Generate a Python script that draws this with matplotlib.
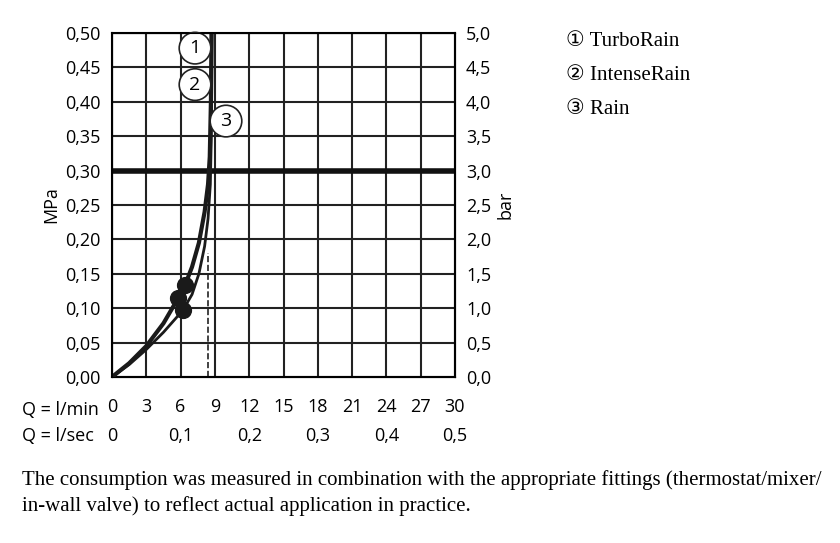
import matplotlib
matplotlib.use("Agg")
import matplotlib.pyplot as plt

curve1_x = [0, 1.5, 3, 4.5, 5.8, 6.4, 7.0, 7.6, 8.1, 8.4, 8.55, 8.65, 8.7]
curve1_y = [0, 0.02, 0.045, 0.078, 0.115, 0.134, 0.16, 0.195, 0.24, 0.28, 0.32, 0.40, 0.50]
curve2_x = [0, 1.5, 3, 4.5, 6.2, 7.0, 7.6, 8.1, 8.4, 8.6, 8.7, 8.75]
curve2_y = [0, 0.018, 0.04, 0.065, 0.097, 0.12, 0.15, 0.19, 0.23, 0.28, 0.36, 0.50]
dots_x = [6.4, 5.8, 6.2]
dots_y = [0.134, 0.115, 0.097]
xticks_min = [0, 3, 6, 9, 12, 15, 18, 21, 24, 27, 30]
xticks_sec = ["0", "0,1", "0,2", "0,3", "0,4", "0,5"]
yticks = [i * 0.05 for i in range(11)]
labels = ["① TurboRain", "② IntenseRain", "③ Rain"]

plt.rcParams['font.family'] = ['Open Sans', 'DejaVu Sans']
fig = plt.figure(figsize=(8.4, 5.43), dpi=100)
ax = fig.add_axes([112/840, 1-377/543, 343/840, 344/543])
ax.set_xlim(0, 30); ax.set_ylim(0, 0.5)
for t in xticks_min:
    ax.axvline(t, color='#222', lw=1.5, zorder=1)
for t in yticks:
    ax.axhline(t, color='#222', lw=1.5, zorder=1)
ax.axhline(0.3, color='#111', lw=4, zorder=2)
ax.plot([8.4, 8.4], [0, 0.18], ls='--', color='#222', lw=1.2)
ax.plot(curve1_x, curve1_y, color='#1a1a1a', lw=3, zorder=3)
ax.plot(curve2_x, curve2_y, color='#1a1a1a', lw=2, zorder=3)
ax.scatter(dots_x, dots_y, s=130, color='#1a1a1a', zorder=4)
for lab, (x, y) in zip(["1", "2", "3"], [(7.26, 0.478), (7.26, 0.425), (9.97, 0.372)]):
    ax.text(x, y, lab, ha='center', va='center', fontsize=14,
            bbox=dict(boxstyle='circle,pad=0.35', fc='white', ec='#222', lw=1.2), zorder=5)
ax.set_xticks(xticks_min)
ax.set_xticklabels([str(t) for t in xticks_min], fontsize=13)
ax.set_yticks(yticks)
ax.set_yticklabels([f"{t:.2f}".replace('.', ',') for t in yticks], fontsize=13)
ax.tick_params(length=0, pad=8)
ax.tick_params(axis='x', pad=15)
for s in ax.spines.values():
    s.set_linewidth(1.5)
ax.set_ylabel("MPa", fontsize=13)
ax2 = ax.twinx()
ax2.set_ylim(0, 5)
ax2.set_yticks([i * 0.5 for i in range(11)])
ax2.set_yticklabels([f"{i*0.5:.1f}".replace('.', ',') for i in range(11)], fontsize=13)
ax2.tick_params(length=0, pad=8)
ax2.set_ylabel("bar", fontsize=13)
fig.text(22/840, 1-410/543, "Q = l/min", fontsize=13, va='center')
fig.text(22/840, 1-436/543, "Q = l/sec", fontsize=13, va='center')
for i, s in enumerate(xticks_sec):
    fig.text((112 + i*68.6)/840, 1-436/543, s, fontsize=13, ha='center', va='center')
for i, l in enumerate(labels):
    fig.text(566/840, 1-(42 + i*34)/543, l, fontsize=15, family=['Liberation Serif', 'DejaVu Sans'], va='center')
fig.text(22/840, 1-480/543, "The consumption was measured in combination with the appropriate fittings (thermostat/mixer/",
         fontsize=15, family='Liberation Serif', va='center')
fig.text(22/840, 1-506/543, "in-wall valve) to reflect actual application in practice.",
         fontsize=15, family='Liberation Serif', va='center')
fig.savefig("out.png", dpi=100)
